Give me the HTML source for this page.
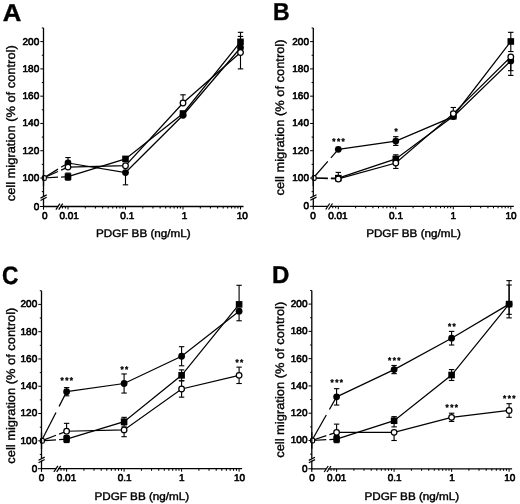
<!DOCTYPE html>
<html lang="en">
<head>
<meta charset="utf-8">
<title>Cell migration vs PDGF BB</title>
<style>
html,body{margin:0;padding:0;background:#fff;}
body{width:520px;height:504px;overflow:hidden;}
svg{display:block;}
text{font-family:"Liberation Sans",Arial,Helvetica,sans-serif;fill:#000;text-rendering:geometricPrecision;}
.pl{font-size:24.5px;font-weight:bold;stroke:#000;stroke-width:0.4px;}
.tl{font-size:9.8px;stroke:#000;stroke-width:0.62px;}
.at{font-size:10.9px;stroke:#000;stroke-width:0.4px;}
.ay{font-size:12.3px;stroke:#000;stroke-width:0.35px;}
.st{font-size:8.2px;font-weight:bold;stroke:#000;stroke-width:0.35px;letter-spacing:1.4px;}
</style>
</head>
<body>
<svg width="520" height="504" viewBox="0 0 520 504">
<rect x="0" y="0" width="520" height="504" fill="#fff"/>
<g id="panelA">
<text transform="translate(2.8,20.6) scale(1.05,1)" class="pl">A</text>
<line x1="43.5" y1="27.96" x2="43.5" y2="207.1" stroke="#000" stroke-width="1.3" />
<line x1="42.9" y1="206.5" x2="243.5" y2="206.5" stroke="#000" stroke-width="1.3" />
<line x1="40" y1="206.5" x2="43.5" y2="206.5" stroke="#000" stroke-width="1" />
<line x1="41.8" y1="191.64" x2="43.5" y2="191.64" stroke="#000" stroke-width="1" />
<line x1="40.3" y1="178" x2="43.5" y2="178" stroke="#000" stroke-width="1" />
<line x1="41.8" y1="164.36" x2="43.5" y2="164.36" stroke="#000" stroke-width="1" />
<line x1="40.3" y1="150.72" x2="43.5" y2="150.72" stroke="#000" stroke-width="1" />
<line x1="41.8" y1="137.08" x2="43.5" y2="137.08" stroke="#000" stroke-width="1" />
<line x1="40.3" y1="123.44" x2="43.5" y2="123.44" stroke="#000" stroke-width="1" />
<line x1="41.8" y1="109.8" x2="43.5" y2="109.8" stroke="#000" stroke-width="1" />
<line x1="40.3" y1="96.16" x2="43.5" y2="96.16" stroke="#000" stroke-width="1" />
<line x1="41.8" y1="82.52" x2="43.5" y2="82.52" stroke="#000" stroke-width="1" />
<line x1="40.3" y1="68.88" x2="43.5" y2="68.88" stroke="#000" stroke-width="1" />
<line x1="41.8" y1="55.24" x2="43.5" y2="55.24" stroke="#000" stroke-width="1" />
<line x1="40.3" y1="41.6" x2="43.5" y2="41.6" stroke="#000" stroke-width="1" />
<line x1="41.8" y1="27.96" x2="43.5" y2="27.96" stroke="#000" stroke-width="1" />
<text transform="translate(39.2,209.6) scale(1.02,1)" class="tl" text-anchor="end">0</text>
<text transform="translate(39.2,180.9) scale(1.02,1)" class="tl" text-anchor="end">100</text>
<text transform="translate(39.2,153.62) scale(1.02,1)" class="tl" text-anchor="end">120</text>
<text transform="translate(39.2,126.34) scale(1.02,1)" class="tl" text-anchor="end">140</text>
<text transform="translate(39.2,99.06) scale(1.02,1)" class="tl" text-anchor="end">160</text>
<text transform="translate(39.2,71.78) scale(1.02,1)" class="tl" text-anchor="end">180</text>
<text transform="translate(39.2,44.5) scale(1.02,1)" class="tl" text-anchor="end">200</text>
<line x1="43.5" y1="206.5" x2="43.5" y2="209.7" stroke="#000" stroke-width="1.1" />
<line x1="62.43" y1="206.5" x2="62.43" y2="208.5" stroke="#000" stroke-width="1.05" />
<line x1="65.37" y1="206.5" x2="65.37" y2="208.5" stroke="#000" stroke-width="1.05" />
<line x1="68" y1="206.5" x2="68" y2="209.5" stroke="#000" stroke-width="1" />
<line x1="85.31" y1="206.5" x2="85.31" y2="208.5" stroke="#000" stroke-width="1.05" />
<line x1="95.43" y1="206.5" x2="95.43" y2="208.5" stroke="#000" stroke-width="1.05" />
<line x1="102.62" y1="206.5" x2="102.62" y2="208.5" stroke="#000" stroke-width="1.05" />
<line x1="108.19" y1="206.5" x2="108.19" y2="208.5" stroke="#000" stroke-width="1.05" />
<line x1="112.74" y1="206.5" x2="112.74" y2="208.5" stroke="#000" stroke-width="1.05" />
<line x1="116.59" y1="206.5" x2="116.59" y2="208.5" stroke="#000" stroke-width="1.05" />
<line x1="119.93" y1="206.5" x2="119.93" y2="208.5" stroke="#000" stroke-width="1.05" />
<line x1="122.87" y1="206.5" x2="122.87" y2="208.5" stroke="#000" stroke-width="1.05" />
<line x1="125.5" y1="206.5" x2="125.5" y2="209.5" stroke="#000" stroke-width="1" />
<line x1="142.81" y1="206.5" x2="142.81" y2="208.5" stroke="#000" stroke-width="1.05" />
<line x1="152.93" y1="206.5" x2="152.93" y2="208.5" stroke="#000" stroke-width="1.05" />
<line x1="160.12" y1="206.5" x2="160.12" y2="208.5" stroke="#000" stroke-width="1.05" />
<line x1="165.69" y1="206.5" x2="165.69" y2="208.5" stroke="#000" stroke-width="1.05" />
<line x1="170.24" y1="206.5" x2="170.24" y2="208.5" stroke="#000" stroke-width="1.05" />
<line x1="174.09" y1="206.5" x2="174.09" y2="208.5" stroke="#000" stroke-width="1.05" />
<line x1="177.43" y1="206.5" x2="177.43" y2="208.5" stroke="#000" stroke-width="1.05" />
<line x1="180.37" y1="206.5" x2="180.37" y2="208.5" stroke="#000" stroke-width="1.05" />
<line x1="183" y1="206.5" x2="183" y2="209.5" stroke="#000" stroke-width="1" />
<line x1="200.31" y1="206.5" x2="200.31" y2="208.5" stroke="#000" stroke-width="1.05" />
<line x1="210.43" y1="206.5" x2="210.43" y2="208.5" stroke="#000" stroke-width="1.05" />
<line x1="217.62" y1="206.5" x2="217.62" y2="208.5" stroke="#000" stroke-width="1.05" />
<line x1="223.19" y1="206.5" x2="223.19" y2="208.5" stroke="#000" stroke-width="1.05" />
<line x1="227.74" y1="206.5" x2="227.74" y2="208.5" stroke="#000" stroke-width="1.05" />
<line x1="231.59" y1="206.5" x2="231.59" y2="208.5" stroke="#000" stroke-width="1.05" />
<line x1="234.93" y1="206.5" x2="234.93" y2="208.5" stroke="#000" stroke-width="1.05" />
<line x1="237.87" y1="206.5" x2="237.87" y2="208.5" stroke="#000" stroke-width="1.05" />
<line x1="240.5" y1="206.5" x2="240.5" y2="209.5" stroke="#000" stroke-width="1" />
<text transform="translate(44.8,218.9) scale(1.02,1)" class="tl" text-anchor="middle">0</text>
<text transform="translate(69.2,218.9) scale(1.02,1)" class="tl" text-anchor="middle">0.01</text>
<text transform="translate(127.3,218.9) scale(1.02,1)" class="tl" text-anchor="middle">0.1</text>
<text transform="translate(184.5,218.9) scale(1.02,1)" class="tl" text-anchor="middle">1</text>
<text transform="translate(242.3,218.9) scale(1.02,1)" class="tl" text-anchor="middle">10</text>
<rect x="42" y="196.3" width="3" height="2" fill="#fff"/>
<line x1="40.5" y1="198.1" x2="46.7" y2="194.9" stroke="#000" stroke-width="1.2" />
<line x1="40.5" y1="200.5" x2="46.7" y2="197.3" stroke="#000" stroke-width="1.2" />
<rect x="58.1" y="205" width="2" height="3" fill="#fff"/>
<line x1="55.9" y1="209.7" x2="59.9" y2="203.7" stroke="#000" stroke-width="1.25" />
<line x1="58.7" y1="209.7" x2="62.7" y2="203.7" stroke="#000" stroke-width="1.25" />
<text transform="translate(143.3,236.8) scale(1.072,1)" class="at" text-anchor="middle">PDGF BB (ng/mL)</text>
<text transform="translate(15.2,123.3) rotate(-90) scale(1.047,1)" class="ay" text-anchor="middle">cell migration (% of control)</text>
<line x1="43.5" y1="178" x2="58" y2="169.12" stroke="#000" stroke-width="1.25" />
<line x1="61.1" y1="167.22" x2="68" y2="163" stroke="#000" stroke-width="1.25" />
<polyline points="68,163 125.5,172.54 183,115.26 240.5,47.74" fill="none" stroke="#000" stroke-width="1.25"/>
<line x1="43.5" y1="178" x2="58" y2="177.19" stroke="#000" stroke-width="1.25" />
<line x1="61.1" y1="177.02" x2="68" y2="176.64" stroke="#000" stroke-width="1.25" />
<polyline points="68,176.64 125.5,158.9 183,113.48 240.5,41.87" fill="none" stroke="#000" stroke-width="1.25"/>
<line x1="43.5" y1="178" x2="58" y2="171.54" stroke="#000" stroke-width="1.25" />
<line x1="61.1" y1="170.16" x2="68" y2="167.09" stroke="#000" stroke-width="1.25" />
<polyline points="68,167.09 125.5,165.72 183,102.98 240.5,52.51" fill="none" stroke="#000" stroke-width="1.25"/>
<line x1="68" y1="163" x2="68" y2="157.54" stroke="#000" stroke-width="1.12" />
<line x1="65.3" y1="157.54" x2="70.7" y2="157.54" stroke="#000" stroke-width="1.12" />
<line x1="125.5" y1="172.54" x2="125.5" y2="184.82" stroke="#000" stroke-width="1.12" />
<line x1="122.8" y1="184.82" x2="128.2" y2="184.82" stroke="#000" stroke-width="1.12" />
<line x1="240.5" y1="47.74" x2="240.5" y2="36.42" stroke="#000" stroke-width="1.12" />
<line x1="237.8" y1="36.42" x2="243.2" y2="36.42" stroke="#000" stroke-width="1.12" />
<line x1="68" y1="176.64" x2="68" y2="173.09" stroke="#000" stroke-width="1.12" />
<line x1="65.3" y1="173.09" x2="70.7" y2="173.09" stroke="#000" stroke-width="1.12" />
<line x1="68" y1="176.64" x2="68" y2="180.18" stroke="#000" stroke-width="1.12" />
<line x1="65.3" y1="180.18" x2="70.7" y2="180.18" stroke="#000" stroke-width="1.12" />
<line x1="240.5" y1="41.87" x2="240.5" y2="32.32" stroke="#000" stroke-width="1.12" />
<line x1="237.8" y1="32.32" x2="243.2" y2="32.32" stroke="#000" stroke-width="1.12" />
<line x1="183" y1="102.98" x2="183" y2="94.8" stroke="#000" stroke-width="1.12" />
<line x1="180.3" y1="94.8" x2="185.7" y2="94.8" stroke="#000" stroke-width="1.12" />
<line x1="240.5" y1="52.51" x2="240.5" y2="68.88" stroke="#000" stroke-width="1.12" />
<line x1="237.8" y1="68.88" x2="243.2" y2="68.88" stroke="#000" stroke-width="1.12" />
<circle cx="68" cy="163" r="3.4" fill="#000"/>
<circle cx="125.5" cy="172.54" r="3.4" fill="#000"/>
<circle cx="183" cy="115.26" r="3.4" fill="#000"/>
<circle cx="240.5" cy="47.74" r="3.4" fill="#000"/>
<rect x="64.7" y="173.34" width="6.6" height="6.6" fill="#000"/>
<rect x="122.2" y="155.6" width="6.6" height="6.6" fill="#000"/>
<rect x="179.7" y="110.18" width="6.6" height="6.6" fill="#000"/>
<rect x="237.2" y="38.57" width="6.6" height="6.6" fill="#000"/>
<circle cx="68" cy="167.09" r="2.8" fill="#fff" stroke="#000" stroke-width="1.25"/>
<circle cx="125.5" cy="165.72" r="2.8" fill="#fff" stroke="#000" stroke-width="1.25"/>
<circle cx="183" cy="102.98" r="2.8" fill="#fff" stroke="#000" stroke-width="1.25"/>
<circle cx="240.5" cy="52.51" r="2.8" fill="#fff" stroke="#000" stroke-width="1.25"/>
<rect x="42.3" y="175.6" width="4" height="4.8" rx="1.5" fill="#fff" stroke="#000" stroke-width="1.2"/>
<line x1="43.5" y1="169.82" x2="43.5" y2="186.18" stroke="#000" stroke-width="1.3" />
</g>
<g id="panelB">
<text transform="translate(273,19.8) scale(0.94,1)" class="pl">B</text>
<line x1="313.3" y1="27.96" x2="313.3" y2="206.9" stroke="#000" stroke-width="1.3" />
<line x1="312.7" y1="206.3" x2="513.8" y2="206.3" stroke="#000" stroke-width="1.3" />
<line x1="309.8" y1="206.3" x2="313.3" y2="206.3" stroke="#000" stroke-width="1" />
<line x1="311.6" y1="191.64" x2="313.3" y2="191.64" stroke="#000" stroke-width="1" />
<line x1="310.1" y1="178" x2="313.3" y2="178" stroke="#000" stroke-width="1" />
<line x1="311.6" y1="164.36" x2="313.3" y2="164.36" stroke="#000" stroke-width="1" />
<line x1="310.1" y1="150.72" x2="313.3" y2="150.72" stroke="#000" stroke-width="1" />
<line x1="311.6" y1="137.08" x2="313.3" y2="137.08" stroke="#000" stroke-width="1" />
<line x1="310.1" y1="123.44" x2="313.3" y2="123.44" stroke="#000" stroke-width="1" />
<line x1="311.6" y1="109.8" x2="313.3" y2="109.8" stroke="#000" stroke-width="1" />
<line x1="310.1" y1="96.16" x2="313.3" y2="96.16" stroke="#000" stroke-width="1" />
<line x1="311.6" y1="82.52" x2="313.3" y2="82.52" stroke="#000" stroke-width="1" />
<line x1="310.1" y1="68.88" x2="313.3" y2="68.88" stroke="#000" stroke-width="1" />
<line x1="311.6" y1="55.24" x2="313.3" y2="55.24" stroke="#000" stroke-width="1" />
<line x1="310.1" y1="41.6" x2="313.3" y2="41.6" stroke="#000" stroke-width="1" />
<line x1="311.6" y1="27.96" x2="313.3" y2="27.96" stroke="#000" stroke-width="1" />
<text transform="translate(309,209.4) scale(1.02,1)" class="tl" text-anchor="end">0</text>
<text transform="translate(309,180.9) scale(1.02,1)" class="tl" text-anchor="end">100</text>
<text transform="translate(309,153.62) scale(1.02,1)" class="tl" text-anchor="end">120</text>
<text transform="translate(309,126.34) scale(1.02,1)" class="tl" text-anchor="end">140</text>
<text transform="translate(309,99.06) scale(1.02,1)" class="tl" text-anchor="end">160</text>
<text transform="translate(309,71.78) scale(1.02,1)" class="tl" text-anchor="end">180</text>
<text transform="translate(309,44.5) scale(1.02,1)" class="tl" text-anchor="end">200</text>
<line x1="313.3" y1="206.3" x2="313.3" y2="209.5" stroke="#000" stroke-width="1.1" />
<line x1="332.73" y1="206.3" x2="332.73" y2="208.3" stroke="#000" stroke-width="1.05" />
<line x1="335.67" y1="206.3" x2="335.67" y2="208.3" stroke="#000" stroke-width="1.05" />
<line x1="338.3" y1="206.3" x2="338.3" y2="209.3" stroke="#000" stroke-width="1" />
<line x1="355.61" y1="206.3" x2="355.61" y2="208.3" stroke="#000" stroke-width="1.05" />
<line x1="365.73" y1="206.3" x2="365.73" y2="208.3" stroke="#000" stroke-width="1.05" />
<line x1="372.92" y1="206.3" x2="372.92" y2="208.3" stroke="#000" stroke-width="1.05" />
<line x1="378.49" y1="206.3" x2="378.49" y2="208.3" stroke="#000" stroke-width="1.05" />
<line x1="383.04" y1="206.3" x2="383.04" y2="208.3" stroke="#000" stroke-width="1.05" />
<line x1="386.89" y1="206.3" x2="386.89" y2="208.3" stroke="#000" stroke-width="1.05" />
<line x1="390.23" y1="206.3" x2="390.23" y2="208.3" stroke="#000" stroke-width="1.05" />
<line x1="393.17" y1="206.3" x2="393.17" y2="208.3" stroke="#000" stroke-width="1.05" />
<line x1="395.8" y1="206.3" x2="395.8" y2="209.3" stroke="#000" stroke-width="1" />
<line x1="413.11" y1="206.3" x2="413.11" y2="208.3" stroke="#000" stroke-width="1.05" />
<line x1="423.23" y1="206.3" x2="423.23" y2="208.3" stroke="#000" stroke-width="1.05" />
<line x1="430.42" y1="206.3" x2="430.42" y2="208.3" stroke="#000" stroke-width="1.05" />
<line x1="435.99" y1="206.3" x2="435.99" y2="208.3" stroke="#000" stroke-width="1.05" />
<line x1="440.54" y1="206.3" x2="440.54" y2="208.3" stroke="#000" stroke-width="1.05" />
<line x1="444.39" y1="206.3" x2="444.39" y2="208.3" stroke="#000" stroke-width="1.05" />
<line x1="447.73" y1="206.3" x2="447.73" y2="208.3" stroke="#000" stroke-width="1.05" />
<line x1="450.67" y1="206.3" x2="450.67" y2="208.3" stroke="#000" stroke-width="1.05" />
<line x1="453.3" y1="206.3" x2="453.3" y2="209.3" stroke="#000" stroke-width="1" />
<line x1="470.61" y1="206.3" x2="470.61" y2="208.3" stroke="#000" stroke-width="1.05" />
<line x1="480.73" y1="206.3" x2="480.73" y2="208.3" stroke="#000" stroke-width="1.05" />
<line x1="487.92" y1="206.3" x2="487.92" y2="208.3" stroke="#000" stroke-width="1.05" />
<line x1="493.49" y1="206.3" x2="493.49" y2="208.3" stroke="#000" stroke-width="1.05" />
<line x1="498.04" y1="206.3" x2="498.04" y2="208.3" stroke="#000" stroke-width="1.05" />
<line x1="501.89" y1="206.3" x2="501.89" y2="208.3" stroke="#000" stroke-width="1.05" />
<line x1="505.23" y1="206.3" x2="505.23" y2="208.3" stroke="#000" stroke-width="1.05" />
<line x1="508.17" y1="206.3" x2="508.17" y2="208.3" stroke="#000" stroke-width="1.05" />
<line x1="510.8" y1="206.3" x2="510.8" y2="209.3" stroke="#000" stroke-width="1" />
<text transform="translate(313,218.7) scale(1.02,1)" class="tl" text-anchor="middle">0</text>
<text transform="translate(337.9,218.7) scale(1.02,1)" class="tl" text-anchor="middle">0.01</text>
<text transform="translate(396,218.7) scale(1.02,1)" class="tl" text-anchor="middle">0.1</text>
<text transform="translate(453.2,218.7) scale(1.02,1)" class="tl" text-anchor="middle">1</text>
<text transform="translate(511,218.7) scale(1.02,1)" class="tl" text-anchor="middle">10</text>
<rect x="311.8" y="196.1" width="3" height="2" fill="#fff"/>
<line x1="310.3" y1="197.9" x2="316.5" y2="194.7" stroke="#000" stroke-width="1.2" />
<line x1="310.3" y1="200.3" x2="316.5" y2="197.1" stroke="#000" stroke-width="1.2" />
<rect x="327.9" y="204.8" width="2" height="3" fill="#fff"/>
<line x1="325.7" y1="209.5" x2="329.7" y2="203.5" stroke="#000" stroke-width="1.25" />
<line x1="328.5" y1="209.5" x2="332.5" y2="203.5" stroke="#000" stroke-width="1.25" />
<text transform="translate(413.5,236.7) scale(1.072,1)" class="at" text-anchor="middle">PDGF BB (ng/mL)</text>
<text transform="translate(283.6,117.5) rotate(-90) scale(1.047,1)" class="ay" text-anchor="middle">cell migration (% of control)</text>
<line x1="313.3" y1="178" x2="327.8" y2="161.39" stroke="#000" stroke-width="1.25" />
<line x1="330.9" y1="157.83" x2="338.3" y2="149.36" stroke="#000" stroke-width="1.25" />
<polyline points="338.3,149.36 395.8,141.04 453.3,116.62 510.8,60.97" fill="none" stroke="#000" stroke-width="1.25"/>
<line x1="313.3" y1="178" x2="327.8" y2="178.08" stroke="#000" stroke-width="1.25" />
<line x1="330.9" y1="178.1" x2="338.3" y2="178.14" stroke="#000" stroke-width="1.25" />
<polyline points="338.3,178.14 395.8,158.9 453.3,116.21 510.8,41.46" fill="none" stroke="#000" stroke-width="1.25"/>
<line x1="313.3" y1="178" x2="327.8" y2="178.55" stroke="#000" stroke-width="1.25" />
<line x1="330.9" y1="178.67" x2="338.3" y2="178.95" stroke="#000" stroke-width="1.25" />
<polyline points="338.3,178.95 395.8,163 453.3,113.62 510.8,56.88" fill="none" stroke="#000" stroke-width="1.25"/>
<line x1="395.8" y1="141.04" x2="395.8" y2="136.67" stroke="#000" stroke-width="1.12" />
<line x1="393.1" y1="136.67" x2="398.5" y2="136.67" stroke="#000" stroke-width="1.12" />
<line x1="395.8" y1="141.04" x2="395.8" y2="145.4" stroke="#000" stroke-width="1.12" />
<line x1="393.1" y1="145.4" x2="398.5" y2="145.4" stroke="#000" stroke-width="1.12" />
<line x1="510.8" y1="60.97" x2="510.8" y2="75.43" stroke="#000" stroke-width="1.12" />
<line x1="508.1" y1="75.43" x2="513.5" y2="75.43" stroke="#000" stroke-width="1.12" />
<line x1="338.3" y1="178.14" x2="338.3" y2="172.41" stroke="#000" stroke-width="1.12" />
<line x1="335.6" y1="172.41" x2="341" y2="172.41" stroke="#000" stroke-width="1.12" />
<line x1="395.8" y1="158.9" x2="395.8" y2="154.81" stroke="#000" stroke-width="1.12" />
<line x1="393.1" y1="154.81" x2="398.5" y2="154.81" stroke="#000" stroke-width="1.12" />
<line x1="510.8" y1="41.46" x2="510.8" y2="32.32" stroke="#000" stroke-width="1.12" />
<line x1="508.1" y1="32.32" x2="513.5" y2="32.32" stroke="#000" stroke-width="1.12" />
<line x1="510.8" y1="41.46" x2="510.8" y2="51.56" stroke="#000" stroke-width="1.12" />
<line x1="508.1" y1="51.56" x2="513.5" y2="51.56" stroke="#000" stroke-width="1.12" />
<line x1="395.8" y1="163" x2="395.8" y2="168.45" stroke="#000" stroke-width="1.12" />
<line x1="393.1" y1="168.45" x2="398.5" y2="168.45" stroke="#000" stroke-width="1.12" />
<line x1="453.3" y1="113.62" x2="453.3" y2="107.48" stroke="#000" stroke-width="1.12" />
<line x1="450.6" y1="107.48" x2="456" y2="107.48" stroke="#000" stroke-width="1.12" />
<line x1="510.8" y1="56.88" x2="510.8" y2="70.65" stroke="#000" stroke-width="1.12" />
<line x1="508.1" y1="70.65" x2="513.5" y2="70.65" stroke="#000" stroke-width="1.12" />
<circle cx="338.3" cy="149.36" r="3.4" fill="#000"/>
<circle cx="395.8" cy="141.04" r="3.4" fill="#000"/>
<circle cx="453.3" cy="116.62" r="3.4" fill="#000"/>
<circle cx="510.8" cy="60.97" r="3.4" fill="#000"/>
<rect x="335" y="174.84" width="6.6" height="6.6" fill="#000"/>
<rect x="392.5" y="155.6" width="6.6" height="6.6" fill="#000"/>
<rect x="450" y="112.91" width="6.6" height="6.6" fill="#000"/>
<rect x="507.5" y="38.16" width="6.6" height="6.6" fill="#000"/>
<circle cx="338.3" cy="178.95" r="2.8" fill="#fff" stroke="#000" stroke-width="1.25"/>
<circle cx="395.8" cy="163" r="2.8" fill="#fff" stroke="#000" stroke-width="1.25"/>
<circle cx="453.3" cy="113.62" r="2.8" fill="#fff" stroke="#000" stroke-width="1.25"/>
<circle cx="510.8" cy="56.88" r="2.8" fill="#fff" stroke="#000" stroke-width="1.25"/>
<rect x="312.1" y="175.6" width="4" height="4.8" rx="1.5" fill="#fff" stroke="#000" stroke-width="1.2"/>
<line x1="313.3" y1="169.82" x2="313.3" y2="186.18" stroke="#000" stroke-width="1.3" />
<text x="339.2" y="144.35" class="st" text-anchor="middle">***</text>
<text x="396.7" y="134.05" class="st" text-anchor="middle">*</text>
</g>
<g id="panelC">
<text transform="translate(2.1,284) scale(0.93,1.03)" class="pl">C</text>
<line x1="41.5" y1="290.76" x2="41.5" y2="469.3" stroke="#000" stroke-width="1.3" />
<line x1="40.9" y1="468.7" x2="242.1" y2="468.7" stroke="#000" stroke-width="1.3" />
<line x1="38" y1="468.7" x2="41.5" y2="468.7" stroke="#000" stroke-width="1" />
<line x1="39.8" y1="454.44" x2="41.5" y2="454.44" stroke="#000" stroke-width="1" />
<line x1="38.3" y1="440.8" x2="41.5" y2="440.8" stroke="#000" stroke-width="1" />
<line x1="39.8" y1="427.16" x2="41.5" y2="427.16" stroke="#000" stroke-width="1" />
<line x1="38.3" y1="413.52" x2="41.5" y2="413.52" stroke="#000" stroke-width="1" />
<line x1="39.8" y1="399.88" x2="41.5" y2="399.88" stroke="#000" stroke-width="1" />
<line x1="38.3" y1="386.24" x2="41.5" y2="386.24" stroke="#000" stroke-width="1" />
<line x1="39.8" y1="372.6" x2="41.5" y2="372.6" stroke="#000" stroke-width="1" />
<line x1="38.3" y1="358.96" x2="41.5" y2="358.96" stroke="#000" stroke-width="1" />
<line x1="39.8" y1="345.32" x2="41.5" y2="345.32" stroke="#000" stroke-width="1" />
<line x1="38.3" y1="331.68" x2="41.5" y2="331.68" stroke="#000" stroke-width="1" />
<line x1="39.8" y1="318.04" x2="41.5" y2="318.04" stroke="#000" stroke-width="1" />
<line x1="38.3" y1="304.4" x2="41.5" y2="304.4" stroke="#000" stroke-width="1" />
<line x1="39.8" y1="290.76" x2="41.5" y2="290.76" stroke="#000" stroke-width="1" />
<text transform="translate(37.2,471.8) scale(1.02,1)" class="tl" text-anchor="end">0</text>
<text transform="translate(37.2,443.7) scale(1.02,1)" class="tl" text-anchor="end">100</text>
<text transform="translate(37.2,416.42) scale(1.02,1)" class="tl" text-anchor="end">120</text>
<text transform="translate(37.2,389.14) scale(1.02,1)" class="tl" text-anchor="end">140</text>
<text transform="translate(37.2,361.86) scale(1.02,1)" class="tl" text-anchor="end">160</text>
<text transform="translate(37.2,334.58) scale(1.02,1)" class="tl" text-anchor="end">180</text>
<text transform="translate(37.2,307.3) scale(1.02,1)" class="tl" text-anchor="end">200</text>
<line x1="41.5" y1="468.7" x2="41.5" y2="471.9" stroke="#000" stroke-width="1.1" />
<line x1="61.03" y1="468.7" x2="61.03" y2="470.7" stroke="#000" stroke-width="1.05" />
<line x1="63.97" y1="468.7" x2="63.97" y2="470.7" stroke="#000" stroke-width="1.05" />
<line x1="66.6" y1="468.7" x2="66.6" y2="471.7" stroke="#000" stroke-width="1" />
<line x1="83.91" y1="468.7" x2="83.91" y2="470.7" stroke="#000" stroke-width="1.05" />
<line x1="94.03" y1="468.7" x2="94.03" y2="470.7" stroke="#000" stroke-width="1.05" />
<line x1="101.22" y1="468.7" x2="101.22" y2="470.7" stroke="#000" stroke-width="1.05" />
<line x1="106.79" y1="468.7" x2="106.79" y2="470.7" stroke="#000" stroke-width="1.05" />
<line x1="111.34" y1="468.7" x2="111.34" y2="470.7" stroke="#000" stroke-width="1.05" />
<line x1="115.19" y1="468.7" x2="115.19" y2="470.7" stroke="#000" stroke-width="1.05" />
<line x1="118.53" y1="468.7" x2="118.53" y2="470.7" stroke="#000" stroke-width="1.05" />
<line x1="121.47" y1="468.7" x2="121.47" y2="470.7" stroke="#000" stroke-width="1.05" />
<line x1="124.1" y1="468.7" x2="124.1" y2="471.7" stroke="#000" stroke-width="1" />
<line x1="141.41" y1="468.7" x2="141.41" y2="470.7" stroke="#000" stroke-width="1.05" />
<line x1="151.53" y1="468.7" x2="151.53" y2="470.7" stroke="#000" stroke-width="1.05" />
<line x1="158.72" y1="468.7" x2="158.72" y2="470.7" stroke="#000" stroke-width="1.05" />
<line x1="164.29" y1="468.7" x2="164.29" y2="470.7" stroke="#000" stroke-width="1.05" />
<line x1="168.84" y1="468.7" x2="168.84" y2="470.7" stroke="#000" stroke-width="1.05" />
<line x1="172.69" y1="468.7" x2="172.69" y2="470.7" stroke="#000" stroke-width="1.05" />
<line x1="176.03" y1="468.7" x2="176.03" y2="470.7" stroke="#000" stroke-width="1.05" />
<line x1="178.97" y1="468.7" x2="178.97" y2="470.7" stroke="#000" stroke-width="1.05" />
<line x1="181.6" y1="468.7" x2="181.6" y2="471.7" stroke="#000" stroke-width="1" />
<line x1="198.91" y1="468.7" x2="198.91" y2="470.7" stroke="#000" stroke-width="1.05" />
<line x1="209.03" y1="468.7" x2="209.03" y2="470.7" stroke="#000" stroke-width="1.05" />
<line x1="216.22" y1="468.7" x2="216.22" y2="470.7" stroke="#000" stroke-width="1.05" />
<line x1="221.79" y1="468.7" x2="221.79" y2="470.7" stroke="#000" stroke-width="1.05" />
<line x1="226.34" y1="468.7" x2="226.34" y2="470.7" stroke="#000" stroke-width="1.05" />
<line x1="230.19" y1="468.7" x2="230.19" y2="470.7" stroke="#000" stroke-width="1.05" />
<line x1="233.53" y1="468.7" x2="233.53" y2="470.7" stroke="#000" stroke-width="1.05" />
<line x1="236.47" y1="468.7" x2="236.47" y2="470.7" stroke="#000" stroke-width="1.05" />
<line x1="239.1" y1="468.7" x2="239.1" y2="471.7" stroke="#000" stroke-width="1" />
<text transform="translate(41.5,481.1) scale(1.02,1)" class="tl" text-anchor="middle">0</text>
<text transform="translate(66.5,481.1) scale(1.02,1)" class="tl" text-anchor="middle">0.01</text>
<text transform="translate(124.6,481.1) scale(1.02,1)" class="tl" text-anchor="middle">0.1</text>
<text transform="translate(181.8,481.1) scale(1.02,1)" class="tl" text-anchor="middle">1</text>
<text transform="translate(239.6,481.1) scale(1.02,1)" class="tl" text-anchor="middle">10</text>
<rect x="40" y="458.5" width="3" height="2" fill="#fff"/>
<line x1="38.5" y1="460.3" x2="44.7" y2="457.1" stroke="#000" stroke-width="1.2" />
<line x1="38.5" y1="462.7" x2="44.7" y2="459.5" stroke="#000" stroke-width="1.2" />
<rect x="56.1" y="467.2" width="2" height="3" fill="#fff"/>
<line x1="53.9" y1="471.9" x2="57.9" y2="465.9" stroke="#000" stroke-width="1.25" />
<line x1="56.7" y1="471.9" x2="60.7" y2="465.9" stroke="#000" stroke-width="1.25" />
<text transform="translate(141.8,499.5) scale(1.072,1)" class="at" text-anchor="middle">PDGF BB (ng/mL)</text>
<text transform="translate(14.6,385.7) rotate(-90) scale(1.047,1)" class="ay" text-anchor="middle">cell migration (% of control)</text>
<line x1="41.5" y1="440.8" x2="56" y2="412.43" stroke="#000" stroke-width="1.25" />
<line x1="59.1" y1="406.37" x2="66.6" y2="391.7" stroke="#000" stroke-width="1.25" />
<polyline points="66.6,391.7 124.1,383.51 181.6,356.23 239.1,311.22" fill="none" stroke="#000" stroke-width="1.25"/>
<line x1="41.5" y1="440.8" x2="56" y2="439.78" stroke="#000" stroke-width="1.25" />
<line x1="59.1" y1="439.56" x2="66.6" y2="439.03" stroke="#000" stroke-width="1.25" />
<polyline points="66.6,439.03 124.1,421.7 181.6,375.33 239.1,304.4" fill="none" stroke="#000" stroke-width="1.25"/>
<line x1="41.5" y1="440.8" x2="56" y2="435.28" stroke="#000" stroke-width="1.25" />
<line x1="59.1" y1="434.1" x2="66.6" y2="431.25" stroke="#000" stroke-width="1.25" />
<polyline points="66.6,431.25 124.1,429.89 181.6,388.97 239.1,375.33" fill="none" stroke="#000" stroke-width="1.25"/>
<line x1="66.6" y1="391.7" x2="66.6" y2="387.6" stroke="#000" stroke-width="1.12" />
<line x1="63.9" y1="387.6" x2="69.3" y2="387.6" stroke="#000" stroke-width="1.12" />
<line x1="66.6" y1="391.7" x2="66.6" y2="395.79" stroke="#000" stroke-width="1.12" />
<line x1="63.9" y1="395.79" x2="69.3" y2="395.79" stroke="#000" stroke-width="1.12" />
<line x1="124.1" y1="383.51" x2="124.1" y2="373.96" stroke="#000" stroke-width="1.12" />
<line x1="121.4" y1="373.96" x2="126.8" y2="373.96" stroke="#000" stroke-width="1.12" />
<line x1="124.1" y1="383.51" x2="124.1" y2="393.06" stroke="#000" stroke-width="1.12" />
<line x1="121.4" y1="393.06" x2="126.8" y2="393.06" stroke="#000" stroke-width="1.12" />
<line x1="181.6" y1="356.23" x2="181.6" y2="346.68" stroke="#000" stroke-width="1.12" />
<line x1="178.9" y1="346.68" x2="184.3" y2="346.68" stroke="#000" stroke-width="1.12" />
<line x1="181.6" y1="356.23" x2="181.6" y2="365.78" stroke="#000" stroke-width="1.12" />
<line x1="178.9" y1="365.78" x2="184.3" y2="365.78" stroke="#000" stroke-width="1.12" />
<line x1="239.1" y1="311.22" x2="239.1" y2="320.77" stroke="#000" stroke-width="1.12" />
<line x1="236.4" y1="320.77" x2="241.8" y2="320.77" stroke="#000" stroke-width="1.12" />
<line x1="66.6" y1="439.03" x2="66.6" y2="435.48" stroke="#000" stroke-width="1.12" />
<line x1="63.9" y1="435.48" x2="69.3" y2="435.48" stroke="#000" stroke-width="1.12" />
<line x1="66.6" y1="439.03" x2="66.6" y2="442.57" stroke="#000" stroke-width="1.12" />
<line x1="63.9" y1="442.57" x2="69.3" y2="442.57" stroke="#000" stroke-width="1.12" />
<line x1="124.1" y1="421.7" x2="124.1" y2="417.34" stroke="#000" stroke-width="1.12" />
<line x1="121.4" y1="417.34" x2="126.8" y2="417.34" stroke="#000" stroke-width="1.12" />
<line x1="124.1" y1="421.7" x2="124.1" y2="426.07" stroke="#000" stroke-width="1.12" />
<line x1="121.4" y1="426.07" x2="126.8" y2="426.07" stroke="#000" stroke-width="1.12" />
<line x1="181.6" y1="375.33" x2="181.6" y2="369.87" stroke="#000" stroke-width="1.12" />
<line x1="178.9" y1="369.87" x2="184.3" y2="369.87" stroke="#000" stroke-width="1.12" />
<line x1="181.6" y1="375.33" x2="181.6" y2="380.78" stroke="#000" stroke-width="1.12" />
<line x1="178.9" y1="380.78" x2="184.3" y2="380.78" stroke="#000" stroke-width="1.12" />
<line x1="239.1" y1="304.4" x2="239.1" y2="285.3" stroke="#000" stroke-width="1.12" />
<line x1="236.4" y1="285.3" x2="241.8" y2="285.3" stroke="#000" stroke-width="1.12" />
<line x1="66.6" y1="431.25" x2="66.6" y2="423.34" stroke="#000" stroke-width="1.12" />
<line x1="63.9" y1="423.34" x2="69.3" y2="423.34" stroke="#000" stroke-width="1.12" />
<line x1="124.1" y1="429.89" x2="124.1" y2="436.71" stroke="#000" stroke-width="1.12" />
<line x1="121.4" y1="436.71" x2="126.8" y2="436.71" stroke="#000" stroke-width="1.12" />
<line x1="181.6" y1="388.97" x2="181.6" y2="380.78" stroke="#000" stroke-width="1.12" />
<line x1="178.9" y1="380.78" x2="184.3" y2="380.78" stroke="#000" stroke-width="1.12" />
<line x1="181.6" y1="388.97" x2="181.6" y2="397.15" stroke="#000" stroke-width="1.12" />
<line x1="178.9" y1="397.15" x2="184.3" y2="397.15" stroke="#000" stroke-width="1.12" />
<line x1="239.1" y1="375.33" x2="239.1" y2="367.14" stroke="#000" stroke-width="1.12" />
<line x1="236.4" y1="367.14" x2="241.8" y2="367.14" stroke="#000" stroke-width="1.12" />
<line x1="239.1" y1="375.33" x2="239.1" y2="383.51" stroke="#000" stroke-width="1.12" />
<line x1="236.4" y1="383.51" x2="241.8" y2="383.51" stroke="#000" stroke-width="1.12" />
<circle cx="66.6" cy="391.7" r="3.4" fill="#000"/>
<circle cx="124.1" cy="383.51" r="3.4" fill="#000"/>
<circle cx="181.6" cy="356.23" r="3.4" fill="#000"/>
<circle cx="239.1" cy="311.22" r="3.4" fill="#000"/>
<rect x="63.3" y="435.73" width="6.6" height="6.6" fill="#000"/>
<rect x="120.8" y="418.4" width="6.6" height="6.6" fill="#000"/>
<rect x="178.3" y="372.03" width="6.6" height="6.6" fill="#000"/>
<rect x="235.8" y="301.1" width="6.6" height="6.6" fill="#000"/>
<circle cx="66.6" cy="431.25" r="2.8" fill="#fff" stroke="#000" stroke-width="1.25"/>
<circle cx="124.1" cy="429.89" r="2.8" fill="#fff" stroke="#000" stroke-width="1.25"/>
<circle cx="181.6" cy="388.97" r="2.8" fill="#fff" stroke="#000" stroke-width="1.25"/>
<circle cx="239.1" cy="375.33" r="2.8" fill="#fff" stroke="#000" stroke-width="1.25"/>
<rect x="40.3" y="438.4" width="4" height="4.8" rx="1.5" fill="#fff" stroke="#000" stroke-width="1.2"/>
<line x1="41.5" y1="432.62" x2="41.5" y2="448.98" stroke="#000" stroke-width="1.3" />
<text x="67.5" y="383.45" class="st" text-anchor="middle">***</text>
<text x="125" y="372.15" class="st" text-anchor="middle">**</text>
<text x="240" y="364.95" class="st" text-anchor="middle">**</text>
</g>
<g id="panelD">
<text transform="translate(272,283) scale(0.98,1)" class="pl">D</text>
<line x1="311.8" y1="290.46" x2="311.8" y2="469.4" stroke="#000" stroke-width="1.3" />
<line x1="311.2" y1="468.8" x2="512.1" y2="468.8" stroke="#000" stroke-width="1.3" />
<line x1="308.3" y1="468.8" x2="311.8" y2="468.8" stroke="#000" stroke-width="1" />
<line x1="310.1" y1="454.14" x2="311.8" y2="454.14" stroke="#000" stroke-width="1" />
<line x1="308.6" y1="440.5" x2="311.8" y2="440.5" stroke="#000" stroke-width="1" />
<line x1="310.1" y1="426.86" x2="311.8" y2="426.86" stroke="#000" stroke-width="1" />
<line x1="308.6" y1="413.22" x2="311.8" y2="413.22" stroke="#000" stroke-width="1" />
<line x1="310.1" y1="399.58" x2="311.8" y2="399.58" stroke="#000" stroke-width="1" />
<line x1="308.6" y1="385.94" x2="311.8" y2="385.94" stroke="#000" stroke-width="1" />
<line x1="310.1" y1="372.3" x2="311.8" y2="372.3" stroke="#000" stroke-width="1" />
<line x1="308.6" y1="358.66" x2="311.8" y2="358.66" stroke="#000" stroke-width="1" />
<line x1="310.1" y1="345.02" x2="311.8" y2="345.02" stroke="#000" stroke-width="1" />
<line x1="308.6" y1="331.38" x2="311.8" y2="331.38" stroke="#000" stroke-width="1" />
<line x1="310.1" y1="317.74" x2="311.8" y2="317.74" stroke="#000" stroke-width="1" />
<line x1="308.6" y1="304.1" x2="311.8" y2="304.1" stroke="#000" stroke-width="1" />
<line x1="310.1" y1="290.46" x2="311.8" y2="290.46" stroke="#000" stroke-width="1" />
<text transform="translate(307.5,471.9) scale(1.02,1)" class="tl" text-anchor="end">0</text>
<text transform="translate(307.5,443.4) scale(1.02,1)" class="tl" text-anchor="end">100</text>
<text transform="translate(307.5,416.12) scale(1.02,1)" class="tl" text-anchor="end">120</text>
<text transform="translate(307.5,388.84) scale(1.02,1)" class="tl" text-anchor="end">140</text>
<text transform="translate(307.5,361.56) scale(1.02,1)" class="tl" text-anchor="end">160</text>
<text transform="translate(307.5,334.28) scale(1.02,1)" class="tl" text-anchor="end">180</text>
<text transform="translate(307.5,307) scale(1.02,1)" class="tl" text-anchor="end">200</text>
<line x1="311.8" y1="468.8" x2="311.8" y2="472" stroke="#000" stroke-width="1.1" />
<line x1="331.03" y1="468.8" x2="331.03" y2="470.8" stroke="#000" stroke-width="1.05" />
<line x1="333.97" y1="468.8" x2="333.97" y2="470.8" stroke="#000" stroke-width="1.05" />
<line x1="336.6" y1="468.8" x2="336.6" y2="471.8" stroke="#000" stroke-width="1" />
<line x1="353.91" y1="468.8" x2="353.91" y2="470.8" stroke="#000" stroke-width="1.05" />
<line x1="364.03" y1="468.8" x2="364.03" y2="470.8" stroke="#000" stroke-width="1.05" />
<line x1="371.22" y1="468.8" x2="371.22" y2="470.8" stroke="#000" stroke-width="1.05" />
<line x1="376.79" y1="468.8" x2="376.79" y2="470.8" stroke="#000" stroke-width="1.05" />
<line x1="381.34" y1="468.8" x2="381.34" y2="470.8" stroke="#000" stroke-width="1.05" />
<line x1="385.19" y1="468.8" x2="385.19" y2="470.8" stroke="#000" stroke-width="1.05" />
<line x1="388.53" y1="468.8" x2="388.53" y2="470.8" stroke="#000" stroke-width="1.05" />
<line x1="391.47" y1="468.8" x2="391.47" y2="470.8" stroke="#000" stroke-width="1.05" />
<line x1="394.1" y1="468.8" x2="394.1" y2="471.8" stroke="#000" stroke-width="1" />
<line x1="411.41" y1="468.8" x2="411.41" y2="470.8" stroke="#000" stroke-width="1.05" />
<line x1="421.53" y1="468.8" x2="421.53" y2="470.8" stroke="#000" stroke-width="1.05" />
<line x1="428.72" y1="468.8" x2="428.72" y2="470.8" stroke="#000" stroke-width="1.05" />
<line x1="434.29" y1="468.8" x2="434.29" y2="470.8" stroke="#000" stroke-width="1.05" />
<line x1="438.84" y1="468.8" x2="438.84" y2="470.8" stroke="#000" stroke-width="1.05" />
<line x1="442.69" y1="468.8" x2="442.69" y2="470.8" stroke="#000" stroke-width="1.05" />
<line x1="446.03" y1="468.8" x2="446.03" y2="470.8" stroke="#000" stroke-width="1.05" />
<line x1="448.97" y1="468.8" x2="448.97" y2="470.8" stroke="#000" stroke-width="1.05" />
<line x1="451.6" y1="468.8" x2="451.6" y2="471.8" stroke="#000" stroke-width="1" />
<line x1="468.91" y1="468.8" x2="468.91" y2="470.8" stroke="#000" stroke-width="1.05" />
<line x1="479.03" y1="468.8" x2="479.03" y2="470.8" stroke="#000" stroke-width="1.05" />
<line x1="486.22" y1="468.8" x2="486.22" y2="470.8" stroke="#000" stroke-width="1.05" />
<line x1="491.79" y1="468.8" x2="491.79" y2="470.8" stroke="#000" stroke-width="1.05" />
<line x1="496.34" y1="468.8" x2="496.34" y2="470.8" stroke="#000" stroke-width="1.05" />
<line x1="500.19" y1="468.8" x2="500.19" y2="470.8" stroke="#000" stroke-width="1.05" />
<line x1="503.53" y1="468.8" x2="503.53" y2="470.8" stroke="#000" stroke-width="1.05" />
<line x1="506.47" y1="468.8" x2="506.47" y2="470.8" stroke="#000" stroke-width="1.05" />
<line x1="509.1" y1="468.8" x2="509.1" y2="471.8" stroke="#000" stroke-width="1" />
<text transform="translate(311.9,481.2) scale(1.02,1)" class="tl" text-anchor="middle">0</text>
<text transform="translate(336.6,481.2) scale(1.02,1)" class="tl" text-anchor="middle">0.01</text>
<text transform="translate(394.7,481.2) scale(1.02,1)" class="tl" text-anchor="middle">0.1</text>
<text transform="translate(451.9,481.2) scale(1.02,1)" class="tl" text-anchor="middle">1</text>
<text transform="translate(509.7,481.2) scale(1.02,1)" class="tl" text-anchor="middle">10</text>
<rect x="310.3" y="458.6" width="3" height="2" fill="#fff"/>
<line x1="308.8" y1="460.4" x2="315" y2="457.2" stroke="#000" stroke-width="1.2" />
<line x1="308.8" y1="462.8" x2="315" y2="459.6" stroke="#000" stroke-width="1.2" />
<rect x="326.4" y="467.3" width="2" height="3" fill="#fff"/>
<line x1="324.2" y1="472" x2="328.2" y2="466" stroke="#000" stroke-width="1.25" />
<line x1="327" y1="472" x2="331" y2="466" stroke="#000" stroke-width="1.25" />
<text transform="translate(411.8,499.5) scale(1.072,1)" class="at" text-anchor="middle">PDGF BB (ng/mL)</text>
<text transform="translate(283.6,379.8) rotate(-90) scale(1.047,1)" class="ay" text-anchor="middle">cell migration (% of control)</text>
<line x1="311.8" y1="440.5" x2="326.3" y2="414.98" stroke="#000" stroke-width="1.25" />
<line x1="329.4" y1="409.52" x2="336.6" y2="396.85" stroke="#000" stroke-width="1.25" />
<polyline points="336.6,396.85 394.1,369.57 451.6,338.2 509.1,304.1" fill="none" stroke="#000" stroke-width="1.25"/>
<line x1="311.8" y1="440.5" x2="326.3" y2="439.7" stroke="#000" stroke-width="1.25" />
<line x1="329.4" y1="439.53" x2="336.6" y2="439.14" stroke="#000" stroke-width="1.25" />
<polyline points="336.6,439.14 394.1,420.72 451.6,375.03 509.1,304.1" fill="none" stroke="#000" stroke-width="1.25"/>
<line x1="311.8" y1="440.5" x2="326.3" y2="435.71" stroke="#000" stroke-width="1.25" />
<line x1="329.4" y1="434.69" x2="336.6" y2="432.32" stroke="#000" stroke-width="1.25" />
<polyline points="336.6,432.32 394.1,432.32 451.6,417.31 509.1,410.49" fill="none" stroke="#000" stroke-width="1.25"/>
<line x1="336.6" y1="396.85" x2="336.6" y2="388.67" stroke="#000" stroke-width="1.12" />
<line x1="333.9" y1="388.67" x2="339.3" y2="388.67" stroke="#000" stroke-width="1.12" />
<line x1="336.6" y1="396.85" x2="336.6" y2="405.04" stroke="#000" stroke-width="1.12" />
<line x1="333.9" y1="405.04" x2="339.3" y2="405.04" stroke="#000" stroke-width="1.12" />
<line x1="394.1" y1="369.57" x2="394.1" y2="365.48" stroke="#000" stroke-width="1.12" />
<line x1="391.4" y1="365.48" x2="396.8" y2="365.48" stroke="#000" stroke-width="1.12" />
<line x1="394.1" y1="369.57" x2="394.1" y2="373.66" stroke="#000" stroke-width="1.12" />
<line x1="391.4" y1="373.66" x2="396.8" y2="373.66" stroke="#000" stroke-width="1.12" />
<line x1="451.6" y1="338.2" x2="451.6" y2="331.38" stroke="#000" stroke-width="1.12" />
<line x1="448.9" y1="331.38" x2="454.3" y2="331.38" stroke="#000" stroke-width="1.12" />
<line x1="451.6" y1="338.2" x2="451.6" y2="345.02" stroke="#000" stroke-width="1.12" />
<line x1="448.9" y1="345.02" x2="454.3" y2="345.02" stroke="#000" stroke-width="1.12" />
<line x1="509.1" y1="304.1" x2="509.1" y2="285" stroke="#000" stroke-width="1.12" />
<line x1="506.4" y1="285" x2="511.8" y2="285" stroke="#000" stroke-width="1.12" />
<line x1="509.1" y1="304.1" x2="509.1" y2="314.33" stroke="#000" stroke-width="1.12" />
<line x1="506.4" y1="314.33" x2="511.8" y2="314.33" stroke="#000" stroke-width="1.12" />
<line x1="336.6" y1="439.14" x2="336.6" y2="435.59" stroke="#000" stroke-width="1.12" />
<line x1="333.9" y1="435.59" x2="339.3" y2="435.59" stroke="#000" stroke-width="1.12" />
<line x1="336.6" y1="439.14" x2="336.6" y2="442.68" stroke="#000" stroke-width="1.12" />
<line x1="333.9" y1="442.68" x2="339.3" y2="442.68" stroke="#000" stroke-width="1.12" />
<line x1="394.1" y1="420.72" x2="394.1" y2="416.63" stroke="#000" stroke-width="1.12" />
<line x1="391.4" y1="416.63" x2="396.8" y2="416.63" stroke="#000" stroke-width="1.12" />
<line x1="394.1" y1="420.72" x2="394.1" y2="426.86" stroke="#000" stroke-width="1.12" />
<line x1="391.4" y1="426.86" x2="396.8" y2="426.86" stroke="#000" stroke-width="1.12" />
<line x1="451.6" y1="375.03" x2="451.6" y2="369.57" stroke="#000" stroke-width="1.12" />
<line x1="448.9" y1="369.57" x2="454.3" y2="369.57" stroke="#000" stroke-width="1.12" />
<line x1="451.6" y1="375.03" x2="451.6" y2="380.48" stroke="#000" stroke-width="1.12" />
<line x1="448.9" y1="380.48" x2="454.3" y2="380.48" stroke="#000" stroke-width="1.12" />
<line x1="509.1" y1="304.1" x2="509.1" y2="280.64" stroke="#000" stroke-width="1.12" />
<line x1="506.4" y1="280.64" x2="511.8" y2="280.64" stroke="#000" stroke-width="1.12" />
<line x1="509.1" y1="304.1" x2="509.1" y2="317.88" stroke="#000" stroke-width="1.12" />
<line x1="506.4" y1="317.88" x2="511.8" y2="317.88" stroke="#000" stroke-width="1.12" />
<line x1="336.6" y1="432.32" x2="336.6" y2="424.13" stroke="#000" stroke-width="1.12" />
<line x1="333.9" y1="424.13" x2="339.3" y2="424.13" stroke="#000" stroke-width="1.12" />
<line x1="394.1" y1="432.32" x2="394.1" y2="440.5" stroke="#000" stroke-width="1.12" />
<line x1="391.4" y1="440.5" x2="396.8" y2="440.5" stroke="#000" stroke-width="1.12" />
<line x1="451.6" y1="417.31" x2="451.6" y2="413.22" stroke="#000" stroke-width="1.12" />
<line x1="448.9" y1="413.22" x2="454.3" y2="413.22" stroke="#000" stroke-width="1.12" />
<line x1="451.6" y1="417.31" x2="451.6" y2="421.4" stroke="#000" stroke-width="1.12" />
<line x1="448.9" y1="421.4" x2="454.3" y2="421.4" stroke="#000" stroke-width="1.12" />
<line x1="509.1" y1="410.49" x2="509.1" y2="403.67" stroke="#000" stroke-width="1.12" />
<line x1="506.4" y1="403.67" x2="511.8" y2="403.67" stroke="#000" stroke-width="1.12" />
<line x1="509.1" y1="410.49" x2="509.1" y2="417.31" stroke="#000" stroke-width="1.12" />
<line x1="506.4" y1="417.31" x2="511.8" y2="417.31" stroke="#000" stroke-width="1.12" />
<circle cx="336.6" cy="396.85" r="3.4" fill="#000"/>
<circle cx="394.1" cy="369.57" r="3.4" fill="#000"/>
<circle cx="451.6" cy="338.2" r="3.4" fill="#000"/>
<circle cx="509.1" cy="304.1" r="3.4" fill="#000"/>
<rect x="333.3" y="435.84" width="6.6" height="6.6" fill="#000"/>
<rect x="390.8" y="417.42" width="6.6" height="6.6" fill="#000"/>
<rect x="448.3" y="371.73" width="6.6" height="6.6" fill="#000"/>
<rect x="505.8" y="300.8" width="6.6" height="6.6" fill="#000"/>
<circle cx="336.6" cy="432.32" r="2.8" fill="#fff" stroke="#000" stroke-width="1.25"/>
<circle cx="394.1" cy="432.32" r="2.8" fill="#fff" stroke="#000" stroke-width="1.25"/>
<circle cx="451.6" cy="417.31" r="2.8" fill="#fff" stroke="#000" stroke-width="1.25"/>
<circle cx="509.1" cy="410.49" r="2.8" fill="#fff" stroke="#000" stroke-width="1.25"/>
<rect x="310.6" y="438.1" width="4" height="4.8" rx="1.5" fill="#fff" stroke="#000" stroke-width="1.2"/>
<line x1="311.8" y1="432.32" x2="311.8" y2="448.68" stroke="#000" stroke-width="1.3" />
<text x="337.5" y="385.45" class="st" text-anchor="middle">***</text>
<text x="395" y="362.95" class="st" text-anchor="middle">***</text>
<text x="452.5" y="329.15" class="st" text-anchor="middle">**</text>
<text x="452.5" y="410.45" class="st" text-anchor="middle">***</text>
<text x="510" y="401.45" class="st" text-anchor="middle">***</text>
</g>
</svg>
</body>
</html>
